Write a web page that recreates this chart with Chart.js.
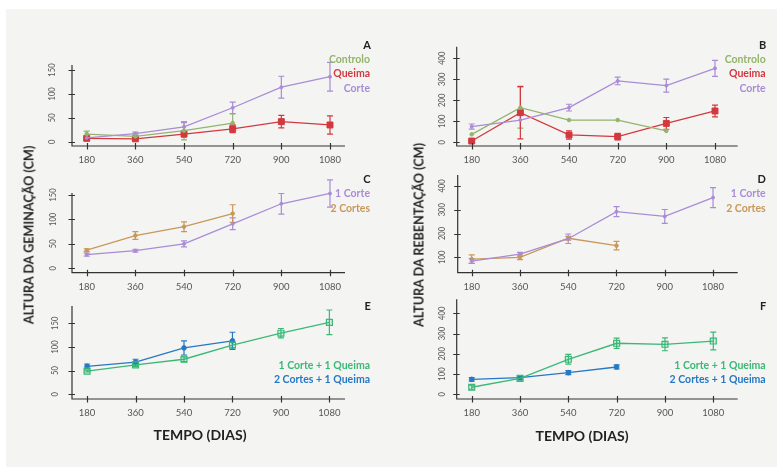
<!DOCTYPE html>
<html>
<head>
<meta charset="utf-8">
<script src="https://cdn.jsdelivr.net/npm/chart.js@4.4.0/dist/chart.umd.min.js"></script>
<style>
  html, body { margin: 0; padding: 0; background: #fff; }
  #wrap { position: relative; width: 777px; height: 467px; overflow: hidden; }
  #bg { position: absolute; left: 6px; top: 9px; right: 0; bottom: 0; background: #f4f5f3; }
  canvas.layer { position: absolute; left: 0; top: 0; }
  .ytitle, .xtitle {
    position: absolute; font: bold 14px Lato, sans-serif; color: #222; white-space: nowrap;
  }
  .ytitle { transform: translate(-50%, -50%) rotate(-90deg) scaleX(0.9); }
  .xtitle { transform: translate(-50%, -50%); }
</style>
</head>
<body>
<div id="wrap">
  <div id="bg"></div>
  <canvas id="chartA" class="layer" width="777" height="467"></canvas>
  <canvas id="chartB" class="layer" width="777" height="467"></canvas>
  <canvas id="chartC" class="layer" width="777" height="467"></canvas>
  <canvas id="chartD" class="layer" width="777" height="467"></canvas>
  <canvas id="chartE" class="layer" width="777" height="467"></canvas>
  <canvas id="chartF" class="layer" width="777" height="467"></canvas>
  <div class="ytitle" style="left:28px;top:235px;">ALTURA DA GEMINAÇÃO (CM)</div>
  <div class="ytitle" style="left:418px;top:235px;">ALTURA DA REBENTAÇÃO (CM)</div>
  <div class="xtitle" style="left:200px;top:434px;">TEMPO (DIAS)</div>
  <div class="xtitle" style="left:582px;top:435px;">TEMPO (DIAS)</div>
</div>

<script>
// Eixo x comum (dias)
const days = [180, 360, 540, 720, 900, 1080];

// Rótulos dos eixos y
const yTicksGem = [0, 50, 100, 150];
const yTicksReb = [0, 100, 200, 300, 400];
const yTicksRebD = [100, 200, 300, 400];

// A - geminação: controlo / queima / corte
const gemControlo = [16, 11, 23, 39];
const gemControloErr = [6, 3, 19, 19];
const gemQueima = [7, 6, 16, 27, 42, 35];
const gemQueimaErr = [2, 2, 6, 8, 13, 19];
const gemCorte = [8, 17, 31, 71, 114, 136];
const gemCorteErr = [3, 3, 9, 12, 23, 30];

// B - rebentação: controlo / queima / corte
const rebControlo = [38, 165, 106, 106, 54];
const rebControloErr = [0, 98, 0, 0, 0];
const rebQueima = [6, 141, 35, 27, 90, 149];
const rebQueimaErr = [4, 125, 20, 16, 28, 28];
const rebCorte = [75, 106, 165, 292, 270, 352];
const rebCorteErr = [12, 0, 16, 18, 31, 38];

// C - geminação: 1 corte / 2 cortes
const gem1Corte = [28, 36, 50, 91, 132, 153];
const gem1CorteErr = [3, 3, 6, 12, 21, 28];
const gem2Cortes = [37, 67, 85, 112];
const gem2CortesErr = [3, 8, 10, 18];

// D - rebentação: 1 corte / 2 cortes
const reb1Corte = [84, 113, 178, 292, 272, 351];
const reb1CorteErr = [10, 8, 20, 21, 29, 42];
const reb2Cortes = [92, 100, 180, 149];
const reb2CortesErr = [18, 10, 8, 18];

// E - geminação: corte + queima
const gem1C1Q = [49, 62, 74, 104, 129, 152];
const gem1C1QErr = [2, 3, 5, 6, 10, 26];
const gem2C1Q = [59, 68, 98, 113];
const gem2C1QErr = [5, 6, 15, 18];

// F - rebentação: corte + queima
const reb1C1Q = [35, 79, 173, 252, 247, 263];
const reb1C1QErr = [10, 8, 24, 25, 32, 44];
const reb2C1Q = [74, 82, 107, 135];
const reb2C1QErr = [9, 9, 10, 10];

// Legendas
const legA = ['Controlo', 'Queima', 'Corte'];
const legC = ['1 Corte', '2 Cortes'];
const legE = ['1 Corte + 1 Queima', '2 Cortes + 1 Queima'];

// Cores
const cControlo = '#93b46c';
const cQueima = '#d2383f';
const cCorte = '#a98bd6';
const c2Cortes = '#c9975a';
const c1C1Q = '#3ab876';
const c2C1Q = '#2677c4';

const W = 777, H = 467;
const FONT = 'Lato, sans-serif';

function series(vals, errs, color, extra) {
  return Object.assign({
    errors: errs,
    data: vals.map((v, i) => ({ x: days[i], y: v })),
    borderColor: color,
    backgroundColor: color,
    borderWidth: 1.3,
    pointRadius: 1.8,
    pointStyle: 'circle',
    pointBorderWidth: 1,
    pointBorderColor: color,
    pointBackgroundColor: color,
    tension: 0,
    clip: false
  }, extra || {});
}

const squareRed = { pointStyle: 'rect', pointRadius: 4.2 };
const openGreen = { pointStyle: 'rect', pointRadius: 4.2, pointBackgroundColor: 'rgba(58,184,118,0.15)', pointBorderWidth: 1.2 };
const dotBlue = { pointRadius: 2.3 };

// Configuração de cada painel (posições em píxeis da página)
const panels = {
  chartA: {
    area: [72, 65, 345, 146], x: [125.6, 1135.5], y: [-9, 160.5], yTicks: yTicksGem, yOff: 20,
    letter: ['A', 367, 45], legX: 370, legY: [59.5, 74, 88.5], legend: legA,
    legColors: [cControlo, cQueima, cCorte],
    series: [
      series(gemControlo, gemControloErr, cControlo),
      series(gemCorte, gemCorteErr, cCorte, { pointRadius: 1.5 }),
      series(gemQueima, gemQueimaErr, cQueima, squareRed)
    ]
  },
  chartB: {
    area: [456.7, 46.7, 737.7, 146], x: [124.5, 1164], y: [-17.6, 455], yTicks: yTicksReb, yOff: 15,
    letter: ['B', 762.7, 45], legX: 765.7, legY: [59.5, 74, 88.5], legend: legA,
    legColors: [cControlo, cQueima, cCorte],
    series: [
      series(rebControlo, rebControloErr, cControlo),
      series(rebCorte, rebCorteErr, cCorte, { pointRadius: 1.5 }),
      series(rebQueima, rebQueimaErr, cQueima, squareRed)
    ]
  },
  chartC: {
    area: [72, 193, 345, 272.7], x: [125.6, 1135.5], y: [-9, 154], yTicks: yTicksGem, yOff: 19,
    letter: ['C', 367, 179], legX: 370, legY: [193.5, 208.5], legend: legC,
    legColors: [cCorte, c2Cortes],
    series: [
      series(gem1Corte, gem1CorteErr, cCorte, { pointRadius: 1.5 }),
      series(gem2Cortes, gem2CortesErr, c2Cortes)
    ]
  },
  chartD: {
    area: [457.7, 175, 737.7, 272.7], x: [127.8, 1172], y: [35.2, 446], yTicks: yTicksRebD, yOff: 16,
    letter: ['D', 761.7, 179], legX: 765.7, legY: [193.5, 208.5], legend: legC,
    legColors: [cCorte, c2Cortes],
    series: [
      series(reb1Corte, reb1CorteErr, cCorte, { pointRadius: 1.5 }),
      series(reb2Cortes, reb2CortesErr, c2Cortes)
    ]
  },
  chartE: {
    area: [72, 306, 345, 399], x: [124, 1138], y: [-10, 186.5], yTicks: yTicksGem, yOff: 17,
    letter: ['E', 367.7, 306.7], legX: 370, legY: [365.5, 379.5], legend: legE,
    legColors: [c1C1Q, c2C1Q],
    series: [
      series(gem1C1Q, gem1C1QErr, c1C1Q, openGreen),
      series(gem2C1Q, gem2C1QErr, c2C1Q, dotBlue)
    ]
  },
  chartF: {
    area: [456.7, 299.3, 737.7, 399], x: [124, 1171], y: [-23, 469], yTicks: yTicksReb, yOff: 15,
    letter: ['F', 763, 306.7], legX: 765.7, legY: [365.5, 379.5], legend: legE,
    legColors: [c1C1Q, c2C1Q],
    series: [
      series(reb1C1Q, reb1C1QErr, c1C1Q, openGreen),
      series(reb2C1Q, reb2C1QErr, c2C1Q, dotBlue)
    ]
  }
};

// Plugin: barras de erro, eixos que cruzam, rótulos, legenda e letra do painel
const panelPlugin = {
  id: 'panelDeco',
  beforeDatasetsDraw(chart) {
    const ctx = chart.ctx;
    const xs = chart.scales.x, ys = chart.scales.y;
    ctx.save();
    ctx.lineWidth = 1.2;
    chart.data.datasets.forEach(ds => {
      if (!ds.errors) return;
      ctx.strokeStyle = ds.borderColor;
      ds.data.forEach((p, j) => {
        const e = ds.errors[j];
        if (!e) return;
        const x = xs.getPixelForValue(p.x);
        const y1 = ys.getPixelForValue(p.y - e);
        const y2 = ys.getPixelForValue(p.y + e);
        ctx.beginPath();
        ctx.moveTo(x, y1); ctx.lineTo(x, y2);
        ctx.moveTo(x - 3, y1); ctx.lineTo(x + 3, y1);
        ctx.moveTo(x - 3, y2); ctx.lineTo(x + 3, y2);
        ctx.stroke();
      });
    });
    ctx.restore();
  },
  afterDraw(chart) {
    const p = panels[chart.canvas.id];
    const ctx = chart.ctx;
    const a = chart.chartArea;
    const xs = chart.scales.x, ys = chart.scales.y;
    ctx.save();

    // eixos
    ctx.strokeStyle = '#333';
    ctx.lineWidth = 1.2;
    ctx.beginPath();
    ctx.moveTo(a.left, a.top); ctx.lineTo(a.left, a.bottom); ctx.lineTo(a.right, a.bottom);
    p.yTicks.forEach(v => {
      const y = Math.round(ys.getPixelForValue(v)) + 0.5;
      ctx.moveTo(a.left - 3.5, y); ctx.lineTo(a.left + 3, y);
    });
    days.forEach(d => {
      const x = Math.round(xs.getPixelForValue(d)) + 0.5;
      ctx.moveTo(x, a.bottom - 3); ctx.lineTo(x, a.bottom + 3.5);
    });
    ctx.stroke();

    // rótulos dos eixos
    ctx.fillStyle = '#555';
    ctx.font = '9.5px ' + FONT;
    ctx.textAlign = 'center';
    ctx.textBaseline = 'middle';
    days.forEach(d => {
      ctx.fillText(String(d), xs.getPixelForValue(d), a.bottom + 14);
    });
    p.yTicks.forEach(v => {
      ctx.save();
      ctx.translate(a.left - p.yOff, ys.getPixelForValue(v));
      ctx.rotate(-Math.PI / 2);
      ctx.scale(0.8, 1);
      ctx.fillText(String(v), 0, 0);
      ctx.restore();
    });

    // legenda
    ctx.font = 'bold 10.5px ' + FONT;
    ctx.textAlign = 'right';
    p.legend.forEach((t, i) => {
      ctx.fillStyle = p.legColors[i];
      ctx.fillText(t, p.legX, p.legY[i]);
    });

    // letra do painel
    ctx.fillStyle = '#222';
    ctx.font = 'bold 11px ' + FONT;
    ctx.textAlign = 'center';
    ctx.fillText(p.letter[0], p.letter[1], p.letter[2]);
    ctx.restore();
  }
};

Object.keys(panels).forEach(id => {
  const p = panels[id];
  const ctx = document.getElementById(id).getContext('2d');
  new Chart(ctx, {
    type: 'line',
    data: { datasets: p.series },
    options: {
      responsive: false,
      animation: false,
      devicePixelRatio: 1,
      layout: {
        padding: { left: p.area[0], top: p.area[1], right: W - p.area[2], bottom: H - p.area[3] }
      },
      scales: {
        x: { type: 'linear', display: false, min: p.x[0], max: p.x[1] },
        y: { type: 'linear', display: false, min: p.y[0], max: p.y[1] }
      },
      plugins: {
        legend: { display: false },
        tooltip: { enabled: false }
      }
    },
    plugins: [panelPlugin]
  });
});
</script>
</body>
</html>
